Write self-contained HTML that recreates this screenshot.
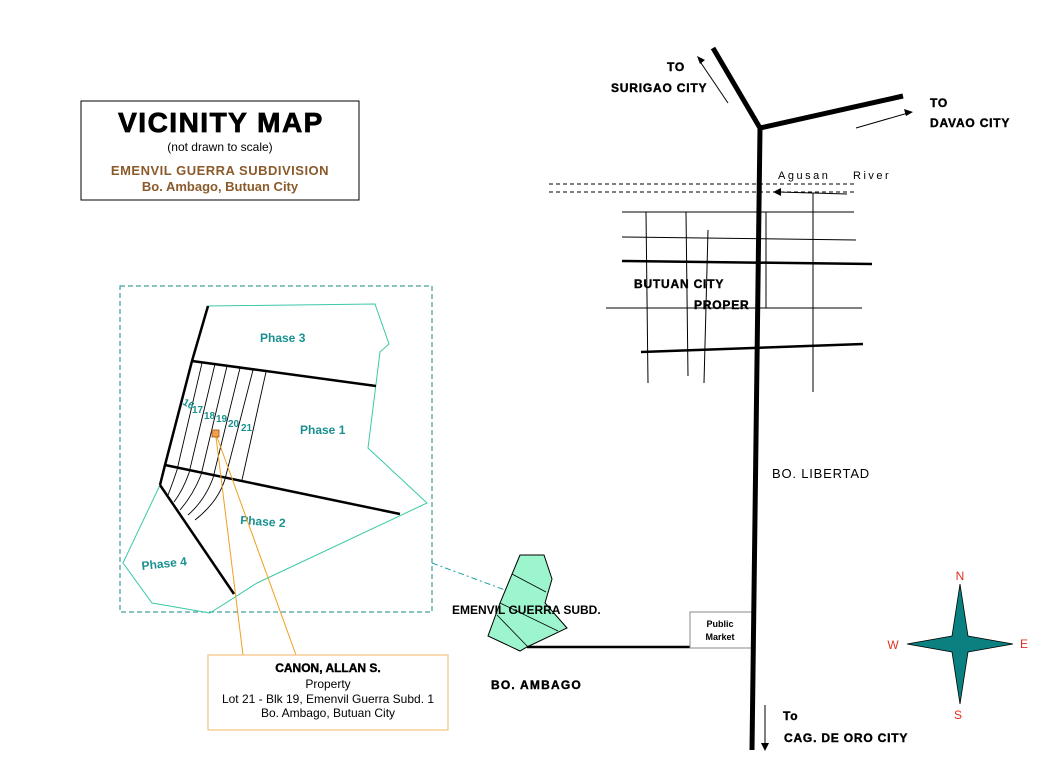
<!DOCTYPE html>
<html><head><meta charset="utf-8"><style>
html,body{margin:0;padding:0;background:#fff;}
svg{display:block;}
text{font-family:"Liberation Sans",Arial,sans-serif;}
.blk{font-weight:bold;font-size:12px;fill:#000;letter-spacing:0.8px;}
.tl{font-weight:bold;font-size:12px;fill:#1a9090;}
</style></head><body>
<svg width="1056" height="768" viewBox="0 0 1056 768" xmlns="http://www.w3.org/2000/svg">
<rect width="1056" height="768" fill="#fff"/>
<rect x="81" y="101" width="278" height="99" fill="#fff" stroke="#000" stroke-width="1"/>
<text x="221" y="132" text-anchor="middle" font-size="28" font-weight="900" fill="#000" style="letter-spacing:1.5px" stroke="#000" stroke-width="0.8">VICINITY MAP</text>
<text x="220" y="151" text-anchor="middle" font-size="12" fill="#000">(not drawn to scale)</text>
<text x="220" y="175" text-anchor="middle" font-size="13" font-weight="bold" fill="#8b5a2b" style="letter-spacing:0.5px">EMENVIL GUERRA SUBDIVISION</text>
<text x="220" y="191" text-anchor="middle" font-size="13" font-weight="bold" fill="#8b5a2b">Bo. Ambago, Butuan City</text>

<rect x="120" y="286" width="312" height="326" fill="none" stroke="#1a8a8a" stroke-dasharray="5,3" stroke-width="1"/>
<line x1="432" y1="563" x2="505" y2="590" stroke="#1aa0a0" stroke-dasharray="6,3,2,3" stroke-width="1"/>
<polyline points="208,306 375,304 389,344 380,352 368,448 427,503 257,583 210,613 152,603 123,563 160,485" fill="none" stroke="#3cc8a8" stroke-width="1"/>
<polyline points="208,306 192,361 165,465 160,485" fill="none" stroke="#000" stroke-width="2.5"/>
<line x1="192" y1="361" x2="376" y2="386" stroke="#000" stroke-width="2.5"/>
<line x1="165" y1="465" x2="400" y2="514" stroke="#000" stroke-width="2.5"/>
<line x1="160" y1="485" x2="234" y2="594" stroke="#000" stroke-width="2.5"/>
<g stroke="#000" stroke-width="0.9" fill="none">
<path d="M202,363 L177,470 Q172,485 168,495"/>
<path d="M215,364 L189,473 Q183,490 174,502"/>
<path d="M227,366 L201,475 Q193,495 180,510"/>
<path d="M240,368 L213,478 Q205,500 188,515"/>
<path d="M253,370 L225,479 Q218,502 195,520"/>
<path d="M266,372 L242,480"/>
</g>
<text class="tl" x="260" y="342">Phase 3</text>
<text class="tl" x="300" y="434">Phase 1</text>
<text class="tl" x="240" y="524" transform="rotate(4 240 524)">Phase 2</text>
<text class="tl" x="142" y="570" transform="rotate(-6 142 570)">Phase 4</text>
<g class="tl" style="font-size:10px">
<text x="182" y="404" transform="rotate(30 182 404)">16</text>
<text x="192" y="413">17</text>
<text x="204" y="419">18</text>
<text x="216" y="422">19</text>
<text x="228" y="427">20</text>
<text x="241" y="431">21</text>
</g>
<line x1="216" y1="437" x2="243" y2="655" stroke="#f0a020" stroke-width="1"/>
<line x1="217" y1="437" x2="296" y2="655" stroke="#f0a020" stroke-width="1"/>
<rect x="212" y="430" width="7" height="7" fill="#f0a050" stroke="#a05010" stroke-width="0.8"/>
<rect x="208" y="655" width="240" height="75" fill="#fff" stroke="#f5c080" stroke-width="1.2"/>
<text x="328" y="672" text-anchor="middle" font-size="12" font-weight="900" fill="#000" stroke="#000" stroke-width="0.4">CANON, ALLAN S.</text>
<text x="328" y="688" text-anchor="middle" font-size="12" fill="#000">Property</text>
<text x="328" y="703" text-anchor="middle" font-size="12" fill="#000">Lot 21 - Blk 19, Emenvil Guerra Subd. 1</text>
<text x="328" y="717" text-anchor="middle" font-size="12" fill="#000">Bo. Ambago, Butuan City</text>

<polygon points="520,555 544,555 552,579 545,603 567,628 527,647 520,651 488,636 500,603" fill="#9cf5cc" stroke="#000" stroke-width="1"/>
<g stroke="#000" stroke-width="0.8"><line x1="512" y1="574" x2="546" y2="592"/><line x1="500" y1="603" x2="558" y2="631"/><line x1="497" y1="615" x2="528" y2="647"/></g>
<text x="452" y="614" font-size="12" font-weight="bold" fill="#000">EMENVIL  GUERRA SUBD.</text>
<line x1="527" y1="647" x2="690" y2="647" stroke="#000" stroke-width="2.5"/>
<rect x="690" y="612" width="62" height="36" fill="#fff" stroke="#888" stroke-width="1"/>
<text x="720" y="627" text-anchor="middle" font-size="9" font-weight="bold">Public</text>
<text x="720" y="640" text-anchor="middle" font-size="9" font-weight="bold">Market</text>
<text class="blk" x="491" y="689" style="letter-spacing:1.2px" stroke="#000" stroke-width="0.4">BO.   AMBAGO</text>

<g stroke="#000" fill="none">
<polyline points="713,48 760,128 903,96" stroke-width="5"/>
<line x1="760" y1="128" x2="752" y2="750" stroke-width="5"/>
<line x1="622" y1="212" x2="854" y2="212" stroke-width="1"/>
<line x1="622" y1="237" x2="856" y2="240" stroke-width="1"/>
<line x1="622" y1="261" x2="872" y2="264" stroke-width="2.5"/>
<line x1="606" y1="308" x2="862" y2="308" stroke-width="1"/>
<line x1="641" y1="352" x2="863" y2="344" stroke-width="2.5"/>
<line x1="646" y1="212" x2="648" y2="383" stroke-width="1"/>
<line x1="686" y1="212" x2="688" y2="376" stroke-width="1"/>
<line x1="708" y1="230" x2="704" y2="383" stroke-width="1"/>
<line x1="766" y1="212" x2="766" y2="308" stroke-width="1"/>
<line x1="813" y1="193" x2="813" y2="392" stroke-width="1"/>
<line x1="549" y1="184" x2="855" y2="184" stroke-width="1" stroke-dasharray="4,3"/>
<line x1="549" y1="192" x2="855" y2="192" stroke-width="1" stroke-dasharray="4,3"/>
<line x1="728" y1="103" x2="699" y2="60" stroke-width="1"/>
<line x1="856" y1="128" x2="908" y2="113" stroke-width="1"/>
<line x1="847" y1="194" x2="778" y2="192" stroke-width="1"/>
<line x1="765" y1="705" x2="765" y2="745" stroke-width="1"/>
</g>
<polygon points="697,56 705,60 700,64" fill="#000"/>
<polygon points="913,112 904,109 906,116" fill="#000"/>
<polygon points="773,192 781,188 781,196" fill="#000"/>
<polygon points="765,751 761,743 769,743" fill="#000"/>

<g stroke="#000" stroke-width="0.4">
<text class="blk" x="667" y="71">TO</text>
<text class="blk" x="611" y="92">SURIGAO CITY</text>
<text class="blk" x="930" y="107">TO</text>
<text class="blk" x="930" y="127">DAVAO CITY</text>
<text class="blk" x="634" y="288">BUTUAN CITY</text>
<text class="blk" x="694" y="309">PROPER</text>
<text class="blk" x="783" y="720">To</text>
<text class="blk" x="784" y="742">CAG. DE ORO CITY</text>
</g>
<text x="778" y="179" font-size="11" fill="#000" style="letter-spacing:2.5px">Agusan</text>
<text x="853" y="179" font-size="11" fill="#000" style="letter-spacing:2.5px">River</text>
<text x="772" y="478" font-size="13" fill="#000" style="letter-spacing:0.8px">BO.  LIBERTAD</text>

<polygon points="960,584 968,636 1013,644 968,652 960,704 952,652 907,644 952,636" fill="#0a8080" stroke="#000" stroke-width="0.8"/>
<g font-size="12" fill="#e03020" text-anchor="middle">
<text x="960" y="580">N</text><text x="958" y="719">S</text><text x="893" y="649">W</text><text x="1024" y="648">E</text>
</g>
</svg>
</body></html>
